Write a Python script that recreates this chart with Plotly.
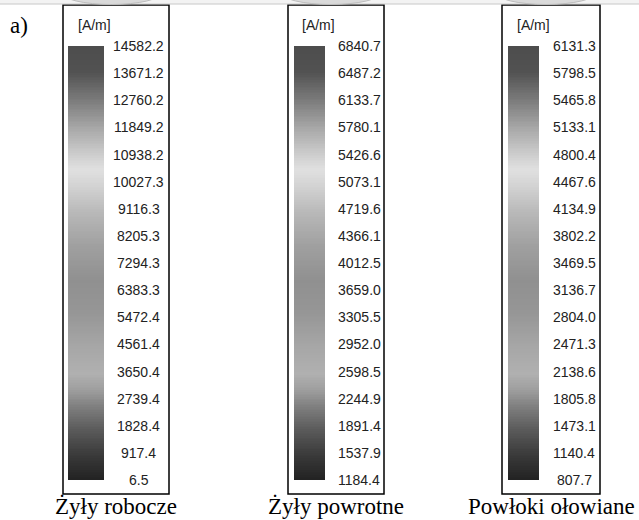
import numpy as np
import plotly.graph_objects as go

W, H = 639, 520

# ---- data ----
captions = ["Żyły robocze", "Żyły powrotne", "Powłoki ołowiane"]
unit_label = "[A/m]"
panel_tag = "a)"
ticks_robocze = [14582.2, 13671.2, 12760.2, 11849.2, 10938.2, 10027.3, 9116.3, 8205.3,
                 7294.3, 6383.3, 5472.4, 4561.4, 3650.4, 2739.4, 1828.4, 917.4, 6.5]
ticks_powrotne = [6840.7, 6487.2, 6133.7, 5780.1, 5426.6, 5073.1, 4719.6, 4366.1,
                  4012.5, 3659.0, 3305.5, 2952.0, 2598.5, 2244.9, 1891.4, 1537.9, 1184.4]
ticks_powloki = [6131.3, 5798.5, 5465.8, 5133.1, 4800.4, 4467.6, 4134.9, 3802.2,
                 3469.5, 3136.7, 2804.0, 2471.3, 2138.6, 1805.8, 1473.1, 1140.4, 807.7]
all_ticks = [ticks_robocze, ticks_powrotne, ticks_powloki]

# ---- style / layout (pixels) ----
boxes = [(63, 169), (288, 384), (502, 600)]
bars = [(68, 104), (294, 325), (508, 539)]
label_cx = [138.5, 359, 574]
unit_cx = [94.5, 318, 533]
box_top, box_bot = 5, 494
bar_top, bar_bot = 46, 480

# grayscale (jet converted to gray) sampled from top(0) to bottom(1)
gray_top = [(0.0, 0x4d), (0.06, 0x52), (0.12, 0x78), (0.19, 0xa8), (0.255, 0xd0),
            (0.285, 0xe0), (0.325, 0xd2), (0.385, 0xb8), (0.46, 0xa0), (0.54, 0x90),
            (0.615, 0x96), (0.69, 0xa6), (0.755, 0xb0), (0.79, 0xa0), (0.83, 0x80),
            (0.885, 0x5a), (0.947, 0x38), (1.0, 0x22)]
cscale = sorted([[1 - t, f"rgb({g},{g},{g})"] for t, g in gray_top], key=lambda p: p[0])

def px(x):
    return x / W

def py(y):
    return 1 - y / H

fig = go.Figure()
annotations = []
shapes = []

for i, ticks in enumerate(all_ticks):
    k = "" if i == 0 else str(i + 1)
    vmin, vmax = min(ticks), max(ticks)
    n = 256
    edges = np.linspace(vmin, vmax, n + 1)
    mids = (edges[:-1] + edges[1:]) / 2
    fig.add_trace(go.Heatmap(
        z=mids.reshape(-1, 1), x=[0, 1], y=edges,
        colorscale=cscale, zmin=vmin, zmax=vmax, showscale=False,
        hoverinfo="skip", xaxis="x" + k, yaxis="y" + k))
    eps = (vmax - vmin) * 1e-5
    fig.update_layout(**{
        "xaxis" + k: dict(domain=[px(bars[i][0]), px(bars[i][1])], range=[0, 1],
                          visible=False, fixedrange=True),
        "yaxis" + k: dict(domain=[py(bar_bot), py(bar_top)], range=[vmin - eps, vmax + eps],
                          visible=False, fixedrange=True),
    })
    for v in ticks:
        annotations.append(dict(
            text=f"{v:.1f}", x=px(label_cx[i]), xref="paper", y=v, yref="y" + k,
            xanchor="center", yanchor="middle", showarrow=False,
            font=dict(family="Liberation Sans, Arial", size=14, color="#222")))
    annotations.append(dict(
        text=unit_label, x=px(unit_cx[i]), xref="paper", y=py(25), yref="paper",
        xanchor="center", yanchor="middle", showarrow=False,
        font=dict(family="Liberation Sans, Arial", size=14, color="#222")))
    annotations.append(dict(
        text=captions[i], x=px((boxes[i][0] + boxes[i][1]) / 2), xref="paper",
        y=py(506), yref="paper", xanchor="center", yanchor="middle", showarrow=False,
        font=dict(family="Liberation Serif, Times New Roman", size=23, color="#000")))
    shapes.append(dict(type="rect", xref="paper", yref="paper",
                       x0=px(boxes[i][0]), x1=px(boxes[i][1]), y0=py(box_bot), y1=py(box_top),
                       line=dict(color="#000", width=1.5), fillcolor="rgba(0,0,0,0)"))

annotations.append(dict(
    text=panel_tag, x=px(8), xref="paper", y=py(25), yref="paper",
    xanchor="left", yanchor="middle", showarrow=False,
    font=dict(family="Liberation Serif, Times New Roman", size=23, color="#000")))

# top strip remnant
shapes.append(dict(type="rect", xref="paper", yref="paper", x0=0, x1=1, y0=py(4), y1=1.02,
                   line=dict(width=0), fillcolor="#f3f3f3", layer="below"))
shapes.append(dict(type="line", xref="paper", yref="paper", x0=0, x1=1, y0=py(4), y1=py(4),
                   line=dict(color="#c8c8c8", width=1)))
for cx in [111.5, 331, 546]:
    shapes.append(dict(type="circle", xref="paper", yref="paper",
                       x0=px(cx - 50), x1=px(cx + 50), y0=py(4.5), y1=py(-19.5),
                       line=dict(color="#bdbdbd", width=1), fillcolor="#dadada"))

fig.update_layout(width=W, height=H, margin=dict(l=0, r=0, t=0, b=0),
                  paper_bgcolor="white", plot_bgcolor="white",
                  annotations=annotations, shapes=shapes, showlegend=False)

fig.write_html("out.html", config={"displayModeBar": False},
               post_script="document.body.style.margin='0';document.body.style.overflow='hidden';")
